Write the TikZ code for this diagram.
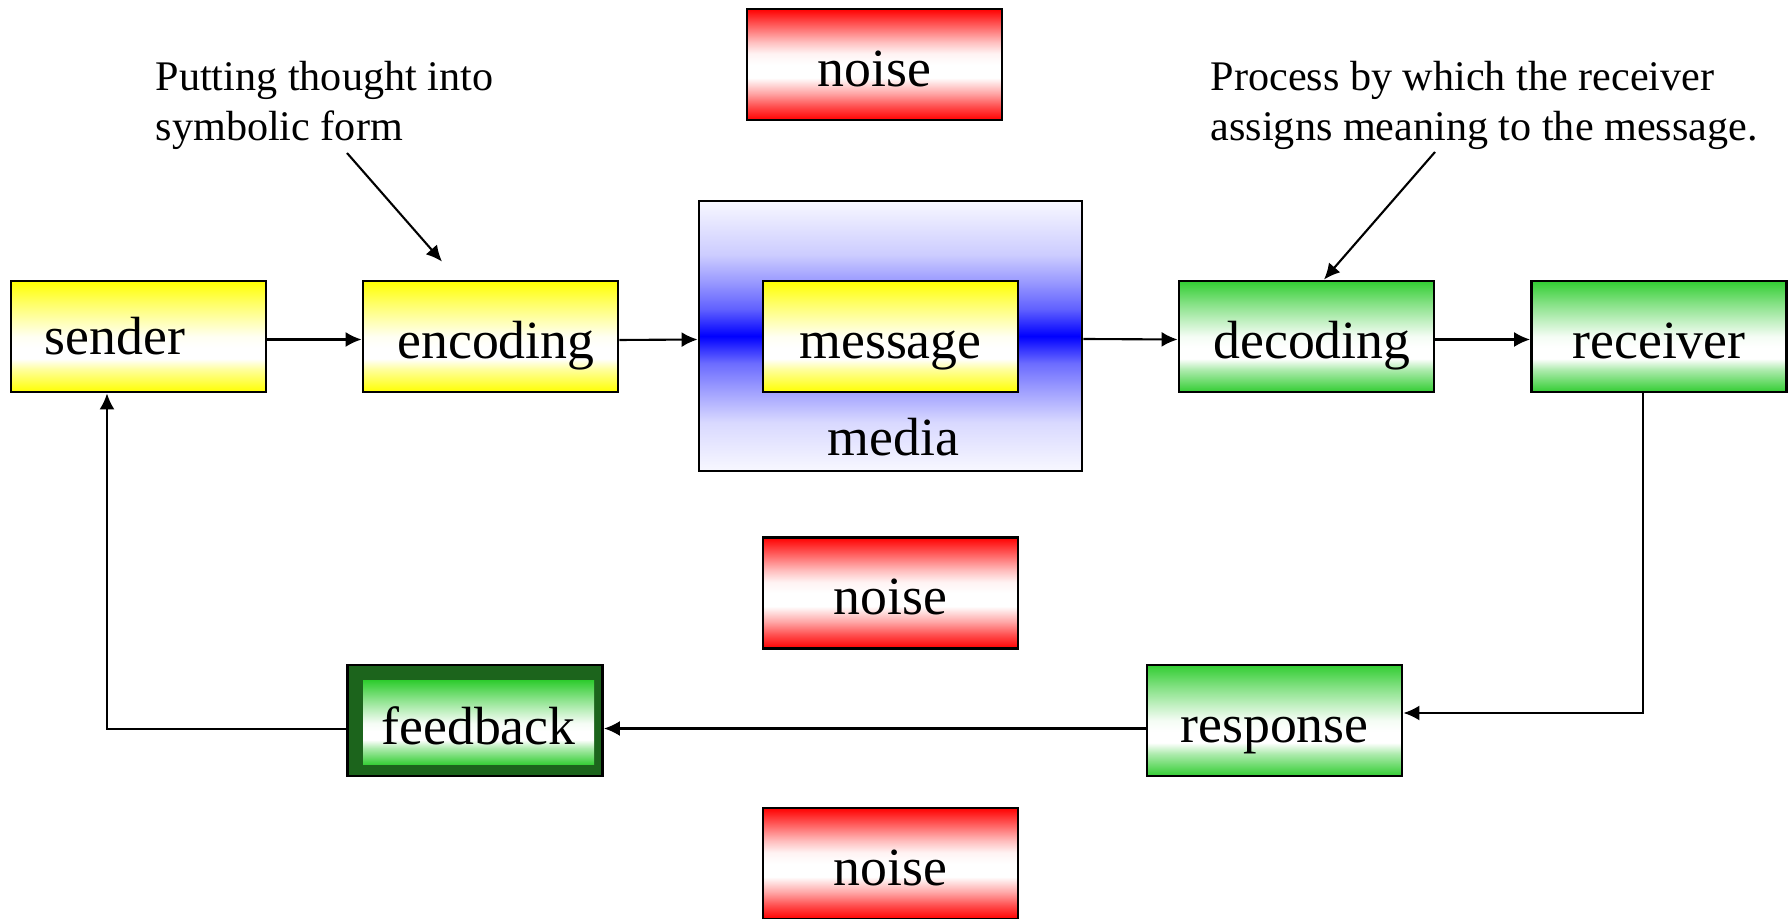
\documentclass[tikz,border=0pt]{standalone}
\usepackage{fontspec}
\setmainfont{Liberation Serif}
\usetikzlibrary{arrows.meta, math}
\definecolor{myyellow}{RGB}{255,255,0}
\definecolor{mygreen}{RGB}{50,205,50}
\definecolor{mydarkgreen}{RGB}{28,100,28}
\definecolor{myred}{RGB}{255,0,0}
\definecolor{myblue}{RGB}{0,0,255}
\pgfdeclareverticalshading{yellowshade}{100bp}{color(0bp)=(myyellow); color(25bp)=(myyellow); color(30bp)=(myyellow!70); color(35bp)=(myyellow!40); color(40bp)=(white); color(45bp)=(white); color(50bp)=(myyellow!5); color(57bp)=(myyellow!30); color(65bp)=(myyellow!60); color(75bp)=(myyellow); color(100bp)=(myyellow)}
\pgfdeclareverticalshading{greenshade}{100bp}{color(0bp)=(mygreen); color(25bp)=(mygreen); color(30bp)=(mygreen!70); color(35bp)=(mygreen!40); color(40bp)=(white); color(45bp)=(white); color(50bp)=(mygreen!5); color(57bp)=(mygreen!30); color(65bp)=(mygreen!60); color(75bp)=(mygreen); color(100bp)=(mygreen)}
\pgfdeclareverticalshading{redshade}{100bp}{color(0bp)=(myred); color(25bp)=(myred); color(31bp)=(myred!70); color(37bp)=(myred!35); color(44bp)=(white); color(50bp)=(white); color(55bp)=(myred!5); color(60bp)=(myred!25); color(67bp)=(myred!60); color(75bp)=(myred); color(100bp)=(myred)}
\pgfdeclareverticalshading{mediashade}{100bp}{color(0bp)=(myblue!3); color(25bp)=(myblue!3); color(34bp)=(myblue!15); color(40bp)=(myblue!38); color(45bp)=(myblue!58); color(50bp)=(myblue); color(55bp)=(myblue!62); color(60bp)=(myblue!40); color(65bp)=(myblue!20); color(75bp)=(myblue!3); color(100bp)=(myblue!3)}

\begin{document}
\begin{tikzpicture}[
box/.style={draw, line width=0.8pt, minimum width=2.55cm, minimum height=1.11cm, inner sep=0pt, text height=0.52cm, text depth=0.08cm, font=\fontsize{15.3}{18}\selectfont},
yellowbox/.style={box, shading=yellowshade},
greenbox/.style={box, shading=greenshade},
noisebox/.style={box, shading=redshade},
link/.style={-{Latex[length=1.6mm,width=1.5mm]}, line width=0.6pt},
note/.style={align=left, inner sep=0pt, anchor=north west, font=\fontsize{12}{14.1}\selectfont}
]
\tikzmath{
\ytop=5.815;
\ybot=1.975;
\xmid=8.905;
}
\useasboundingbox (0,0) rectangle (17.9,9.18);

\node[draw, line width=0.8pt, minimum width=3.83cm, minimum height=2.7cm, shading=mediashade] (media) at (\xmid,5.82) {};
\node[yellowbox] (message) at (\xmid,\ytop) {message};
\node[font=\fontsize{15.3}{18}\selectfont, anchor=base] (medialabel) at (8.935,4.625) {media};

\node[yellowbox, text depth=0.15cm] (sender) at (1.385,\ytop) {sender\rule{0.47cm}{0pt}};
\node[yellowbox] (encoding) at (4.905,\ytop) {\rule{0.11cm}{0pt}encoding};
\node[greenbox] (decoding) at (13.065,\ytop) {\rule{0.11cm}{0pt}decoding};
\node[greenbox] (receiver) at (16.59,\ytop) {receiver};

\node[noisebox] (noisetop) at (8.745,8.535) {noise};
\node[noisebox] (noisemid) at (\xmid,3.25) {noise};
\node[noisebox] (noisebot) at (\xmid,0.545) {noise};

\node[box, fill=mydarkgreen] (feedback) at (4.75,\ybot) {};
\node[greenbox, draw=none, minimum width=2.31cm, minimum height=0.84cm] (feedbackin) at (4.785,1.95) {feedback};
\node[greenbox] (response) at (12.745,\ybot) {response};

\node[note] (encnote) at (1.55,8.57) {Putting thought into\\symbolic form};
\node[note] (decnote) at (12.10,8.57) {Process by which the receiver\\assigns meaning to the message.};
\coordinate (encnotetail) at (3.47,7.65);
\coordinate (decnotetail) at (14.35,7.66);

\draw[link] ([yshift=-0.03cm]sender.east) -- ([yshift=-0.03cm]encoding.west);
\draw[link] ([yshift=-0.035cm]encoding.east) -- ([yshift=-0.035cm]media.west);
\draw[link] ([yshift=-0.03cm]media.east) -- ([yshift=-0.03cm]decoding.west);
\draw[link] ([yshift=-0.03cm]decoding.east) -- ([yshift=-0.03cm]receiver.west);
\draw[link] ([xshift=-0.16cm]receiver.south) |- ([yshift=0.075cm]response.east);
\draw[link] ([yshift=-0.08cm]response.west) -- ([yshift=-0.08cm]feedback.east);
\draw[link] ([yshift=-0.085cm]feedback.west) -| ([xshift=-0.315cm]sender.south);
\draw[link] (encnotetail) -- ([xshift=-0.485cm,yshift=0.18cm]encoding.north);
\draw[link] (decnotetail) -- ([xshift=0.175cm]decoding.north);
\end{tikzpicture}
\end{document}
